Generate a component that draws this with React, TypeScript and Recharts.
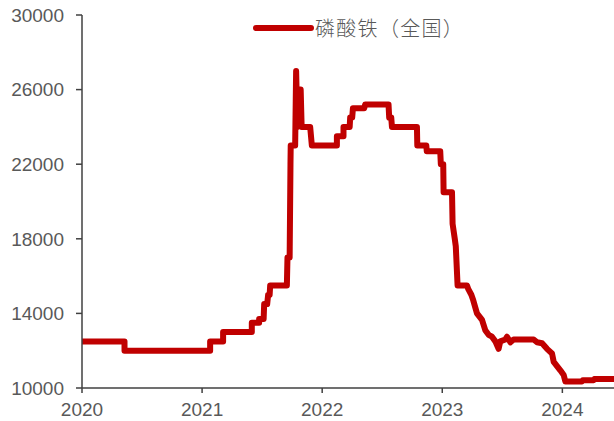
import React from "react";
import { LineChart, Line, XAxis, YAxis } from "recharts";

// dates as fractional years
const dates: number[] = [
  2020.0, 2020.354, 2020.354, 2021.067, 2021.067, 2021.175, 2021.175, 2021.414, 2021.414,
  2021.475, 2021.475, 2021.5125, 2021.517, 2021.542, 2021.55, 2021.5625, 2021.567,
  2021.706, 2021.711, 2021.729, 2021.736, 2021.738, 2021.775, 2021.783, 2021.794,
  2021.808, 2021.821, 2021.829, 2021.9, 2021.914, 2022.1225, 2022.1225, 2022.1775,
  2022.1775, 2022.229, 2022.233, 2022.25, 2022.256, 2022.35, 2022.358, 2022.5525,
  2022.558, 2022.575, 2022.581, 2022.789, 2022.792, 2022.867, 2022.871, 2022.983,
  2022.988, 2023.008, 2023.011, 2023.081, 2023.086, 2023.104, 2023.1125, 2023.1275,
  2023.206, 2023.217, 2023.242, 2023.258, 2023.289, 2023.331, 2023.358, 2023.386,
  2023.414, 2023.442, 2023.469, 2023.483, 2023.525, 2023.539, 2023.567, 2023.594,
  2023.761, 2023.789, 2023.831, 2023.872, 2023.914, 2023.928, 2023.983, 2024.011,
  2024.025, 2024.164, 2024.171, 2024.261, 2024.267, 2024.425,
];

const prices: number[] = [
  12500, 12500, 12000, 12000, 12500, 12500, 13000, 13000, 13500,
  13500, 13700, 13700, 14500, 14500, 15000, 15000, 15500,
  15500, 17000, 17000, 22000, 23000, 23000, 27000, 24000,
  26000, 26000, 24000, 24000, 23000, 23000, 23500, 23500,
  24000, 24000, 24500, 24500, 25000, 25000, 25200, 25200,
  24500, 24500, 24000, 24000, 23000, 23000, 22700, 22700,
  22000, 22000, 20500, 20500, 18800, 18000, 17600, 15500,
  15500, 15300, 15000, 14700, 14000, 13650, 13100, 12850,
  12750, 12500, 12100, 12500, 12600, 12750, 12450, 12600,
  12600, 12450, 12400, 12100, 11850, 11400, 10950, 10700,
  10350, 10350, 10420, 10420, 10480, 10480,
];

const xTicks: number[] = [2020, 2021, 2022, 2023, 2024];
const yTicks: number[] = [10000, 14000, 18000, 22000, 26000, 30000];
const seriesName = "磷酸铁（全国）";

const data = dates.map((d, i) => ({ date: d, price: prices[i] }));

const LINE_COLOR = "#C00000";
const TEXT_COLOR = "#595959";
const AXIS_COLOR = "#404040";
const TICK_FONT = "'Liberation Sans', Arial, sans-serif";

export default function App() {
  return (
    <div style={{ position: "absolute", left: 0, top: 0, width: 614, height: 421, background: "#fff" }}>
      <LineChart width={614} height={421} data={data} margin={{ top: 15, right: 0, bottom: 0, left: 0 }}>
        <XAxis
          dataKey="date"
          type="number"
          domain={[2020, 2024.43]}
          ticks={xTicks}
          allowDataOverflow
          height={33}
          tickSize={5}
          tickMargin={10}
          stroke={AXIS_COLOR}
          strokeWidth={1.5}
          tick={{ fill: TEXT_COLOR, fontSize: 19, fontFamily: TICK_FONT }}
          interval={0}
        />
        <YAxis
          type="number"
          domain={[10000, 30000]}
          ticks={yTicks}
          allowDataOverflow
          width={82}
          tickSize={6}
          tickMargin={12}
          stroke={AXIS_COLOR}
          strokeWidth={1.5}
          tick={{ fill: TEXT_COLOR, fontSize: 19, fontFamily: TICK_FONT }}
          interval={0}
        />
        <Line
          type="linear"
          dataKey="price"
          name={seriesName}
          stroke={LINE_COLOR}
          strokeWidth={6}
          strokeLinejoin="round"
          strokeLinecap="round"
          dot={false}
          activeDot={false}
          isAnimationActive={false}
        />
      </LineChart>
      <div
        style={{
          position: "absolute",
          left: 252,
          top: 17,
          height: 22,
          display: "flex",
          alignItems: "center",
        }}
      >
        <svg width={62} height={12} style={{ display: "block" }}>
          <line x1={4} y1={6} x2={59} y2={6} stroke={LINE_COLOR} strokeWidth={6} strokeLinecap="round" />
        </svg>
        <span
          style={{
            fontFamily: "'Noto Sans CJK SC', sans-serif",
            fontSize: 20,
            fontWeight: 300,
            letterSpacing: 1.3,
            color: TEXT_COLOR,
            marginLeft: 1,
            whiteSpace: "nowrap",
            lineHeight: "22px",
          }}
        >
          {seriesName}
        </span>
      </div>
    </div>
  );
}
